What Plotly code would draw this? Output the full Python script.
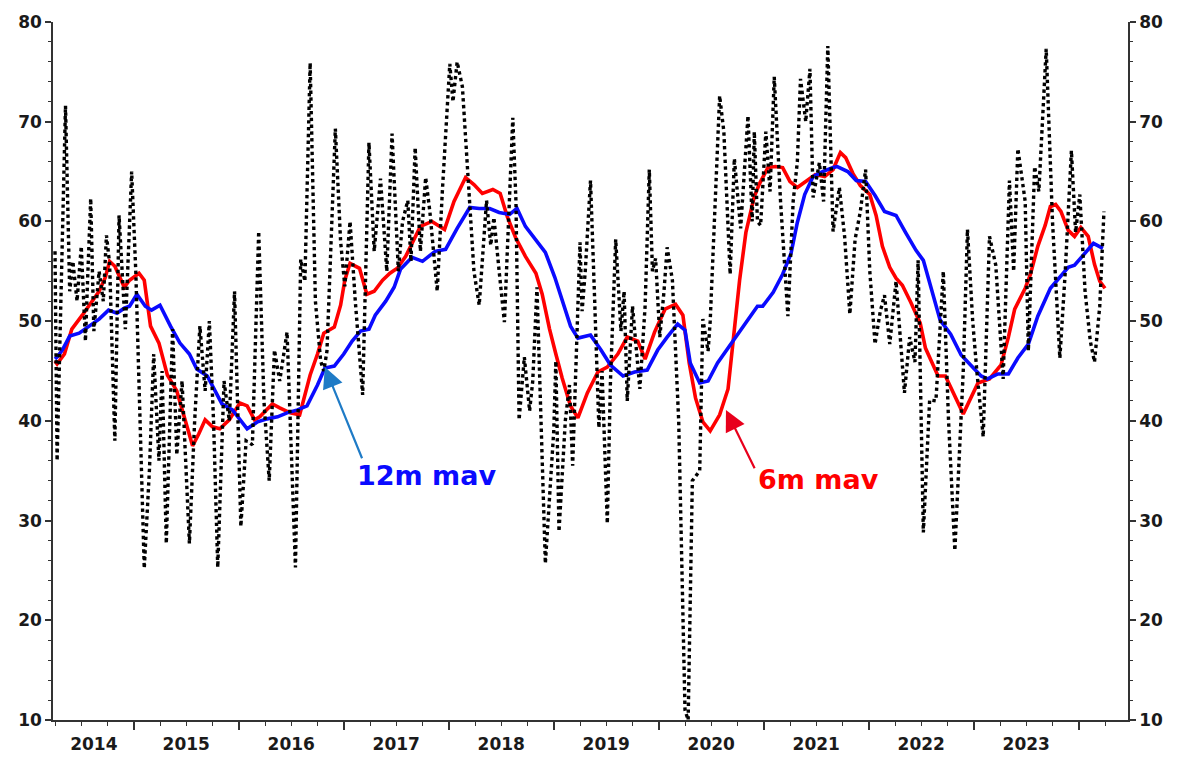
import plotly.graph_objects as go

# ---------------- data (decimal years) ----------------
black_x = [2014.25, 2014.27, 2014.35, 2014.39, 2014.42, 2014.46, 2014.50, 2014.54, 2014.56, 2014.59,
           2014.62, 2014.67, 2014.71, 2014.74, 2014.77, 2014.82, 2014.86, 2014.92, 2014.98, 2015.02,
           2015.10, 2015.15, 2015.19, 2015.24, 2015.27, 2015.31, 2015.37, 2015.41, 2015.46, 2015.53,
           2015.58, 2015.63, 2015.68, 2015.72, 2015.76, 2015.80, 2015.86, 2015.91, 2015.96, 2016.02,
           2016.07, 2016.13, 2016.19, 2016.24, 2016.29, 2016.34, 2016.39, 2016.46, 2016.54, 2016.59,
           2016.63, 2016.68, 2016.73, 2016.78, 2016.81, 2016.84, 2016.92, 2016.97, 2017.01, 2017.06,
           2017.11, 2017.18, 2017.24, 2017.29, 2017.35, 2017.41, 2017.46, 2017.52, 2017.56, 2017.61,
           2017.64, 2017.68, 2017.73, 2017.78, 2017.82, 2017.89, 2017.94, 2018.01, 2018.04, 2018.08,
           2018.13, 2018.19, 2018.24, 2018.29, 2018.36, 2018.40, 2018.43, 2018.48, 2018.53, 2018.61,
           2018.64, 2018.67, 2018.72, 2018.77, 2018.80, 2018.84, 2018.92, 2019.00, 2019.02, 2019.05,
           2019.11, 2019.15, 2019.18, 2019.25, 2019.27, 2019.30, 2019.35, 2019.39, 2019.43, 2019.46,
           2019.51, 2019.54, 2019.59, 2019.64, 2019.67, 2019.70, 2019.75, 2019.82, 2019.87, 2019.91,
           2019.94, 2019.97, 2020.01, 2020.05, 2020.08, 2020.13, 2020.19, 2020.25, 2020.28, 2020.32,
           2020.39, 2020.42, 2020.47, 2020.49, 2020.54, 2020.58, 2020.62, 2020.68, 2020.72, 2020.78,
           2020.85, 2020.89, 2020.91, 2020.94, 2020.97, 2021.02, 2021.06, 2021.10, 2021.16, 2021.23,
           2021.28, 2021.32, 2021.35, 2021.40, 2021.44, 2021.47, 2021.53, 2021.57, 2021.61, 2021.66,
           2021.72, 2021.77, 2021.82, 2021.87, 2021.92, 2021.97, 2022.01, 2022.06, 2022.11, 2022.15,
           2022.20, 2022.26, 2022.31, 2022.34, 2022.39, 2022.44, 2022.47, 2022.52, 2022.58, 2022.64,
           2022.71, 2022.76, 2022.82, 2022.90, 2022.94, 2022.99, 2023.03, 2023.09, 2023.15, 2023.21,
           2023.28, 2023.34, 2023.38, 2023.42, 2023.49, 2023.52, 2023.58, 2023.62, 2023.69, 2023.75,
           2023.82, 2023.87, 2023.93, 2023.97, 2024.01, 2024.06, 2024.11, 2024.15, 2024.20, 2024.24]
black_y = [57, 36, 71.6, 53, 56, 52, 57.5, 48, 54, 62.3,
           49, 55, 52, 58.6, 55.8, 38, 60.6, 49.2, 65, 54.8,
           25.2, 35.2, 46.7, 36, 45, 27.7, 49.2, 36.6, 44, 27.7,
           40, 49.5, 43, 50, 40, 25.3, 44, 40, 53, 29.4,
           38, 37.6, 59, 42, 34, 47.1, 44, 48.9, 25.3, 56.2,
           54, 75.9, 52, 46, 45, 47, 69.3, 58, 53.5, 60,
           52, 42.6, 67.9, 57, 64.3, 55, 68.8, 55, 60, 62.1,
           56, 67.4, 57, 64.4, 61, 53, 63.2, 75.8, 72, 76,
           73.5, 64, 55, 51.6, 62.1, 57.6, 60.4, 55, 49.9, 70.4,
           62, 40.1, 46.4, 41, 44, 53.4, 25.7, 39, 46, 28.9,
           40, 43.6, 35.5, 57.9, 51, 55, 64.1, 52, 39.3, 45,
           29.7, 44, 58.2, 49, 53, 42, 51.5, 43.2, 51.5, 65.2,
           55, 56.3, 48.4, 53, 57.4, 54.1, 40, 11, 10, 34,
           35, 50.2, 47, 50, 61.7, 72.6, 69, 54.7, 66.3, 59.3,
           70.6, 60, 69, 60, 59.6, 69, 63, 74.5, 62, 50.5,
           62, 66, 74.3, 70, 75.3, 62.4, 65.9, 62, 77.6, 59,
           63.4, 58.5, 50.7, 58.2, 61, 65.2, 55, 47.7, 51, 52.6,
           47.7, 54, 47, 42.8, 48.4, 45.9, 56.1, 28.8, 42.1, 42,
           55, 40, 27, 45, 59.2, 50, 44.9, 38.4, 58.5, 55.6,
           44.2, 64.1, 55, 67.3, 62, 47, 65.5, 63, 77.3, 60,
           46.3, 54.7, 67.1, 58.9, 62.7, 53, 48, 45.9, 51.5, 61]

red_x = [2014.25, 2014.27, 2014.34, 2014.41, 2014.51, 2014.58, 2014.67, 2014.73, 2014.77, 2014.82,
         2014.91, 2014.96, 2015.05, 2015.10, 2015.16, 2015.24, 2015.32, 2015.41, 2015.49, 2015.56,
         2015.62, 2015.68, 2015.75, 2015.82, 2015.91, 2016.01, 2016.08, 2016.15, 2016.20, 2016.32,
         2016.39, 2016.49, 2016.58, 2016.62, 2016.68, 2016.75, 2016.81, 2016.91, 2016.97, 2017.01,
         2017.06, 2017.15, 2017.22, 2017.29, 2017.37, 2017.44, 2017.51, 2017.59, 2017.65, 2017.73,
         2017.84, 2017.96, 2018.05, 2018.16, 2018.24, 2018.32, 2018.42, 2018.49, 2018.56, 2018.64,
         2018.73, 2018.83, 2018.89, 2018.96, 2019.02, 2019.08, 2019.16, 2019.23, 2019.32, 2019.42,
         2019.51, 2019.61, 2019.70, 2019.80, 2019.87, 2019.96, 2020.06, 2020.16, 2020.23, 2020.29,
         2020.35, 2020.42, 2020.49, 2020.58, 2020.66, 2020.72, 2020.77, 2020.83, 2020.91, 2020.96,
         2021.04, 2021.11, 2021.18, 2021.25, 2021.32, 2021.40, 2021.49, 2021.58, 2021.66, 2021.73,
         2021.78, 2021.85, 2021.92, 2022.01, 2022.07, 2022.13, 2022.20, 2022.26, 2022.32, 2022.40,
         2022.49, 2022.54, 2022.66, 2022.73, 2022.90, 2023.04, 2023.15, 2023.26, 2023.33, 2023.39,
         2023.49, 2023.54, 2023.61, 2023.68, 2023.73, 2023.78, 2023.83, 2023.90, 2023.96, 2024.02,
         2024.09, 2024.15, 2024.20, 2024.25]
red_y = [46.0, 45.7, 46.7, 49.2, 50.6, 51.6, 53.0, 54.4, 56.0, 55.5,
         53.4, 54.1, 54.8, 54.1, 49.5, 47.8, 44.6, 43.0, 40.1, 37.5,
         38.7, 40.1, 39.4, 39.2, 40.1, 41.8, 41.5, 40.1, 40.4, 41.7,
         41.3, 40.8, 40.6, 42.2, 44.6, 46.7, 48.8, 49.4, 51.6, 54.1,
         55.8, 55.3, 52.7, 53.0, 54.1, 54.8, 55.3, 56.5, 57.8, 59.5,
         60.0, 59.2, 62.0, 64.4, 63.7, 62.8, 63.2, 62.8, 60.4, 58.3,
         56.5, 54.8, 52.7, 49.2, 46.7, 44.3, 41.5, 40.3, 42.8, 44.9,
         45.4, 46.7, 48.4, 48.0, 46.2, 48.9, 51.2, 51.7, 50.6, 45.8,
         42.3, 39.9, 39.0, 40.6, 43.2, 48.9, 54.1, 58.9, 62.5, 63.8,
         65.4, 65.5, 65.4, 64.0, 63.4, 64.0, 64.7, 64.5, 65.2, 66.9,
         66.4, 64.8, 63.6, 62.7, 60.6, 57.5, 55.4, 54.3, 53.6, 51.9,
         49.8, 47.3, 44.5, 44.5, 40.7, 43.8, 44.2, 45.6, 48.4, 51.2,
         53.3, 54.7, 57.5, 59.6, 61.5, 61.7, 61.0, 59.1, 58.5, 59.4,
         58.5, 55.7, 54.0, 53.3]

blue_x = [2014.25, 2014.27, 2014.32, 2014.39, 2014.48, 2014.57, 2014.67, 2014.76, 2014.84, 2014.91,
          2014.96, 2015.03, 2015.11, 2015.17, 2015.25, 2015.35, 2015.44, 2015.53, 2015.60, 2015.70,
          2015.78, 2015.84, 2015.94, 2015.99, 2016.08, 2016.18, 2016.27, 2016.37, 2016.46, 2016.56,
          2016.65, 2016.75, 2016.82, 2016.91, 2017.00, 2017.08, 2017.16, 2017.24, 2017.30, 2017.40,
          2017.48, 2017.54, 2017.65, 2017.75, 2017.87, 2017.97, 2018.08, 2018.20, 2018.29, 2018.39,
          2018.48, 2018.58, 2018.65, 2018.73, 2018.83, 2018.92, 2019.01, 2019.08, 2019.16, 2019.23,
          2019.35, 2019.45, 2019.54, 2019.66, 2019.77, 2019.89, 2019.99, 2020.08, 2020.18, 2020.25,
          2020.30, 2020.39, 2020.47, 2020.56, 2020.66, 2020.75, 2020.85, 2020.94, 2020.99, 2021.09,
          2021.18, 2021.26, 2021.32, 2021.39, 2021.47, 2021.56, 2021.66, 2021.70, 2021.80, 2021.88,
          2021.97, 2022.06, 2022.15, 2022.26, 2022.35, 2022.45, 2022.52, 2022.61, 2022.68, 2022.78,
          2022.88, 2022.97, 2023.07, 2023.13, 2023.23, 2023.33, 2023.42, 2023.52, 2023.61, 2023.73,
          2023.80, 2023.90, 2023.96, 2024.06, 2024.14, 2024.23]
blue_y = [46.2, 46.4, 47.1, 48.5, 48.8, 49.5, 50.2, 51.1, 50.8, 51.3,
          51.5, 52.7, 51.5, 51.1, 51.6, 49.5, 47.8, 46.7, 45.2, 44.5,
          42.9, 41.7, 41.1, 40.4, 39.2, 39.9, 40.2, 40.4, 40.8, 41.1,
          41.5, 43.6, 45.3, 45.5, 46.7, 48.0, 49.0, 49.2, 50.6, 52.0,
          53.4, 55.2, 56.4, 56.0, 57.0, 57.2, 59.3, 61.4, 61.3, 61.3,
          60.9, 60.7, 61.3, 59.5, 58.1, 56.9, 54.4, 52.0, 49.5, 48.3,
          48.6, 47.1, 45.6, 44.5, 44.9, 45.1, 47.1, 48.4, 49.7, 49.1,
          45.8, 43.8, 44.0, 45.8, 47.3, 48.6, 50.2, 51.5, 51.5, 52.9,
          54.7, 56.8, 59.9, 62.7, 64.5, 65.0, 65.4, 65.5, 65.0, 64.1,
          64.0, 62.6, 61.0, 60.6, 58.9, 57.1, 56.1, 52.6, 50.1, 48.7,
          46.6, 45.6, 44.5, 44.2, 44.7, 44.7, 46.3, 47.7, 50.5, 53.3,
          54.2, 55.4, 55.6, 56.8, 57.8, 57.3]

year_labels = ["2014", "2015", "2016", "2017", "2018", "2019", "2020", "2021", "2022", "2023"]
# first label is centred in the visible part of 2014
year_label_pos = [2014.62, 2015.5, 2016.5, 2017.5, 2018.5, 2019.5, 2020.5, 2021.5, 2022.5, 2023.5]
year_bounds = [2015, 2016, 2017, 2018, 2019, 2020, 2021, 2022, 2023, 2024]

# ---------------- figure ----------------
AX = "#333333"
FONT = dict(family="DejaVu Sans", size=17, color="#1a1a1a", weight="bold")
XR = [2014.231, 2024.469]
YR = [10, 80]

fig = go.Figure()
fig.add_trace(go.Scatter(x=red_x, y=red_y, mode="lines", line=dict(color="#ff0000", width=3.6),
                         showlegend=False, hoverinfo="skip"))
fig.add_trace(go.Scatter(x=blue_x, y=blue_y, mode="lines", line=dict(color="#0a0aff", width=3.6),
                         showlegend=False, hoverinfo="skip"))
fig.add_trace(go.Scatter(x=black_x, y=black_y, mode="lines",
                         line=dict(color="#000000", width=3.4, dash="dot"),
                         showlegend=False, hoverinfo="skip"))
# dummy trace to anchor the secondary axes (labels on right / year labels)
fig.add_trace(go.Scatter(x=[None], y=[None], xaxis="x2", yaxis="y2", showlegend=False, hoverinfo="skip"))

# page body has an 8px margin, so the figure is sized to end at the window edge
fig.update_layout(
    template="none",
    width=1170, height=750,
    margin=dict(l=45, r=50, t=14, b=38, autoexpand=False),
    paper_bgcolor="white", plot_bgcolor="white",
    showlegend=False,
    xaxis=dict(range=XR, automargin=False, showgrid=False, zeroline=False, showline=True,
               linecolor=AX, linewidth=1.6,
               tickmode="array", tickvals=year_bounds, ticktext=[""] * len(year_bounds),
               ticks="outside", ticklen=8, tickwidth=1.5, tickcolor=AX,
               minor=dict(dtick=0.25, tick0=2014.25, ticks="outside", ticklen=4, tickwidth=1.3,
                          tickcolor=AX, showgrid=False)),
    xaxis2=dict(range=XR, automargin=False, overlaying="x", anchor="y", side="bottom", showgrid=False,
                zeroline=False, showline=False, tickmode="array", tickvals=year_label_pos,
                ticktext=year_labels, ticks="outside", ticklen=9, tickcolor="rgba(0,0,0,0)",
                tickfont=FONT),
    yaxis=dict(range=YR, automargin=False, showgrid=False, zeroline=False, showline=True,
               linecolor=AX, linewidth=1.6,
               tickmode="linear", tick0=10, dtick=10, ticks="outside", ticklen=6, tickwidth=1.5,
               tickcolor=AX, tickfont=FONT,
               minor=dict(dtick=2, ticks="outside", ticklen=3, tickwidth=1.3, tickcolor=AX, showgrid=False)),
    yaxis2=dict(range=YR, automargin=False, overlaying="y", side="right", anchor="x", showgrid=False,
                zeroline=False, showline=True, linecolor=AX, linewidth=1.6,
                tickmode="linear", tick0=10, dtick=10, ticks="outside", ticklen=6, tickwidth=1.5,
                tickcolor=AX, tickfont=FONT,
                minor=dict(dtick=2, ticks="outside", ticklen=3, tickwidth=1.3, tickcolor=AX, showgrid=False)),
)

LBL = dict(family="DejaVu Sans", size=27, weight="bold")
fig.add_annotation(x=2016.82, y=45.4, ax=2017.18, ay=36.1, axref="x", ayref="y", xref="x", yref="y",
                   text="", showarrow=True, arrowhead=2, arrowsize=1.9, arrowwidth=2.2,
                   arrowcolor="#1f7bc6")
fig.add_annotation(x=2017.79, y=34.5, xref="x", yref="y", text="12m mav", showarrow=False,
                   font=dict(color="#0a0aff", **LBL))
fig.add_annotation(x=2020.64, y=41.1, ax=2020.92, ay=35.1, axref="x", ayref="y", xref="x", yref="y",
                   text="", showarrow=True, arrowhead=2, arrowsize=1.9, arrowwidth=2.2,
                   arrowcolor="#e8001c")
fig.add_annotation(x=2021.52, y=34.1, xref="x", yref="y", text="6m mav", showarrow=False,
                   font=dict(color="#ff0000", **LBL))

fig.write_html("out.html")
